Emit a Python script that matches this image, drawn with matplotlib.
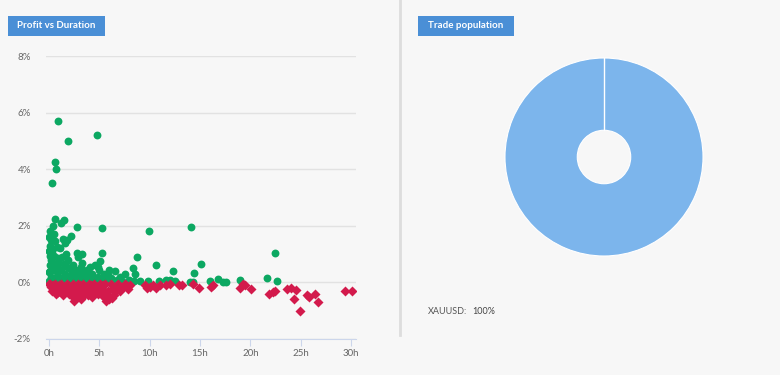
import matplotlib.pyplot as plt
from matplotlib.patches import Rectangle
import matplotlib.lines as mlines

plt.rcParams['font.family'] = ['Lato', 'DejaVu Sans']

# profit trades: duration (hours), profit (%)
win_hours = [0.9, 4.8, 1.9, 0.6, 0.7, 0.3,
             0.6, 1.5, 1.2, 0.4, 2.8, 5.3, 0.1, 2.2, 0.0, 1.4, 0.6, 1.6, 0.1, 0.8,
             1.1, 0.3, 2.8, 3.3, 2.9, 5.3, 1.7, 0.5, 1.3, 0.9, 0.2, 1.9, 1.0, 0.4,
             1.5, 2.4, 0.1, 0.7, 3.2, 4.1, 4.6, 4.9, 5.1, 5.0, 3.8, 2.7, 2.0, 1.2,
             0.3, 0.0, 0.8, 1.6, 2.3, 3.0, 3.5, 4.3, 5.5, 5.9, 6.6, 7.5, 8.3, 8.7,
             8.5, 9.9, 14.1, 22.5, 10.6, 15.1, 12.3, 14.4, 0.2, 0.6, 1.0, 1.4, 1.9,
             2.5, 2.9, 3.4, 3.9, 4.5, 4.9, 5.3, 5.8, 6.2, 6.8, 7.1, 7.9, 8.4, 9.0,
             9.8, 10.9, 11.6, 12.0, 12.5, 14.0, 14.3, 16.0, 16.8, 17.3, 17.6, 19.0,
             21.7, 22.7, 0.0, 0.4, 0.8, 1.2, 1.7, 2.1, 2.6, 3.1, 3.6, 4.1, 4.7, 5.2,
             5.7, 6.4, 7.3, 0.1, 0.0, 0.1, 1.8, 2.6, 3.3, 4.0, 6.0, 0.5, 1.8, 0.2]
win_pct = [5.7, 5.2, 5.0, 4.25, 4.0, 3.5,
           2.25, 2.2, 2.1, 2.0, 1.95, 1.93, 1.8, 1.65, 1.6, 1.55, 1.45, 1.4, 1.3, 1.25,
           1.2, 1.1, 1.05, 1.0, 0.9, 1.05, 1.0, 0.95, 0.9, 0.85, 0.8, 0.8, 0.7, 0.7,
           0.65, 0.6, 0.6, 0.55, 0.55, 0.55, 0.6, 0.55, 0.75, 0.45, 0.45, 0.45, 0.5, 0.45,
           0.45, 0.35, 0.35, 0.3, 0.35, 0.3, 0.35, 0.3, 0.3, 0.25, 0.4, 0.3, 0.5, 0.9,
           0.3, 1.8, 1.95, 1.05, 0.6, 0.65, 0.4, 0.33, 0.2, 0.15, 0.2, 0.15, 0.2,
           0.15, 0.2, 0.15, 0.2, 0.15, 0.2, 0.15, 0.1, 0.15, 0.1, 0.2, 0.1, 0.05, 0.05,
           0.05, 0.05, 0.1, 0.1, 0.05, 0.02, 0.02, 0.05, 0.12, 0.03, 0.02, 0.1,
           0.15, 0.05, 0.05, 0.05, 0.05, 0.05, 0.05, 0.05, 0.05, 0.05, 0.05, 0.05, 0.05, 0.05,
           0.05, 0.05, 0.05, 0.95, 1.1, 0.4, 0.55, 0.25, 0.7, 0.1, 0.45, 1.7, 1.5, 1.5]

# losing trades
loss_hours = [0.0, 0.2, 0.4, 0.5, 0.8, 1.0, 1.1, 1.3, 1.5, 1.7, 1.9, 2.0, 2.2, 2.3, 2.5,
              2.6, 2.8, 3.0, 3.1, 3.3, 3.5, 3.6, 3.8, 4.0, 4.2, 4.4, 4.6, 4.8, 5.0, 5.2,
              5.4, 5.6, 5.7, 5.9, 6.1, 6.3, 6.4, 6.6, 6.8, 7.0, 7.3, 7.6, 8.0, 9.7, 9.5,
              10.0, 10.3, 10.6, 11.0, 11.6, 12.0, 12.9, 13.2, 14.3, 14.9, 16.1, 16.3,
              19.0, 19.3, 19.5, 20.1, 21.9, 22.3, 22.5, 23.6, 24.0, 24.3, 24.5, 24.9,
              25.6, 25.8, 26.4, 26.7, 29.4, 30.1,
              0.1, 0.6, 1.2, 1.8, 2.4, 2.9, 3.4, 4.0, 4.5, 5.1, 5.6, 6.2, 6.9, 7.5,
              0.3, 0.9, 1.4, 1.9, 2.4, 2.7, 3.2, 3.9, 4.3, 4.9, 5.5, 5.8, 6.0, 6.5,
              2.1, 3.7, 1.6, 0.7, 4.1, 5.3, 7.8, 7.1]
loss_pct = [-0.05, -0.15, -0.1, -0.25, -0.2, -0.1, -0.3, -0.15, -0.35, -0.2, -0.1, -0.4,
            -0.25, -0.15, -0.65, -0.35, -0.2, -0.45, -0.1, -0.3, -0.2, -0.4, -0.15, -0.3,
            -0.1, -0.25, -0.35, -0.15, -0.2, -0.4, -0.1, -0.55, -0.65, -0.3, -0.5, -0.55,
            -0.2, -0.35, -0.1, -0.15, -0.2, -0.1, -0.1, -0.2, -0.1,
            -0.15, -0.1, -0.2, -0.1, -0.1, -0.05, -0.1, -0.08, -0.05, -0.2, -0.15, -0.1,
            -0.2, -0.05, -0.1, -0.22, -0.4, -0.35, -0.3, -0.22, -0.2, -0.57, -0.28, -1.0,
            -0.45, -0.5, -0.42, -0.68, -0.32, -0.32,
            -0.05, -0.05, -0.05, -0.05, -0.05, -0.05, -0.05, -0.05, -0.05, -0.05, -0.05,
            -0.05, -0.05, -0.05,
            -0.3, -0.35, -0.45, -0.3, -0.5, -0.55, -0.6, -0.45, -0.5, -0.4, -0.3, -0.45,
            -0.6, -0.45,
            -0.2, -0.25, -0.25, -0.4, -0.2, -0.25, -0.25, -0.3]

x_ticks = [0, 5, 10, 15, 20, 25, 30]
y_ticks = [-2, 0, 2, 4, 6, 8]

symbols = ['XAUUSD']
shares = [100]

bg = '#f7f7f7'
fig = plt.figure(figsize=(7.8, 3.75), dpi=100, facecolor=bg)

# left panel: scatter
ax = fig.add_axes([46 / 780, 1 - 339 / 375, 310 / 780, 283 / 375], facecolor=bg)
ax.scatter(win_hours, win_pct, s=32, color='#0ca862', marker='o', linewidths=0, zorder=3)
ax.scatter(loss_hours, loss_pct, s=26, color='#d31a4c', marker='D', linewidths=0, zorder=4)
ax.set_xlim(-0.3, 30.5)
ax.set_ylim(-2, 8)
ax.set_xticks(x_ticks)
ax.set_xticklabels([f'{t}h' for t in x_ticks])
ax.set_yticks(y_ticks)
ax.set_yticklabels([f'{t}%' for t in y_ticks])
ax.grid(axis='y', color='#e2e2e2', linewidth=1)
ax.set_axisbelow(True)
for s in ['top', 'right', 'left']:
    ax.spines[s].set_visible(False)
ax.spines['bottom'].set_color('#ccd6eb')
ax.tick_params(axis='x', colors='#ccd6eb', labelcolor='#666666', labelsize=7, length=5, pad=2)
ax.tick_params(axis='y', length=0, labelcolor='#666666', labelsize=7, pad=11)

# right panel: pie
pax = fig.add_axes([504 / 780, 1 - 257 / 375, 200 / 780, 200 / 375])
pax.pie(shares, colors=['#7cb5ec'], startangle=90, counterclock=False,
        wedgeprops=dict(width=0.73, edgecolor='white', linewidth=0.8))
pax.plot([0, 0], [0.27, 1], color='white', linewidth=1)
pax.set_xlim(-1.01, 1.01)
pax.set_ylim(-1.01, 1.01)
pax.set_aspect('equal')
pax.axis('off')

# divider
fig.add_artist(mlines.Line2D([400 / 780, 400 / 780], [1, 1 - 335 / 375],
                             color='#dddddd', linewidth=2))

# title buttons
for x0, w, label in [(8, 97, 'Profit vs Duration'), (418, 96, 'Trade population')]:
    fig.add_artist(Rectangle((x0 / 780, 1 - 36 / 375), w / 780, 20 / 375,
                             facecolor='#4a8fd6', edgecolor='none'))
    fig.text((x0 + w / 2) / 780, 1 - 26 / 375, label, color='white',
             fontsize=7, fontweight='bold', ha='center', va='center')

fig.text(428 / 780, 1 - 311 / 375, f'{symbols[0]}:', fontsize=6.5, color='#555555', va='center')
fig.text(472 / 780, 1 - 311 / 375, f'{shares[0]}%', fontsize=6.5, color='#444444', va='center')

fig.savefig('out.png', dpi=100, facecolor=bg)
